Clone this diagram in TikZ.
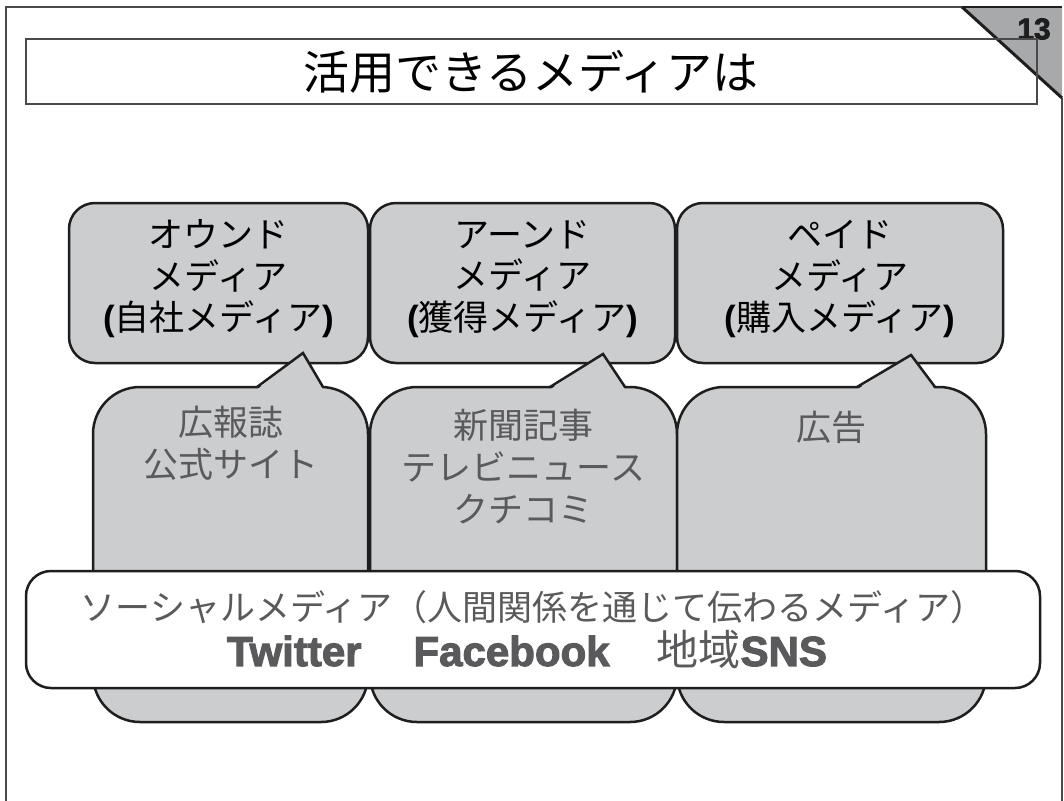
\documentclass[tikz,border=0pt]{standalone}
\usepackage{fontspec}
\newfontfamily\jp{Noto Sans CJK JP}
\newfontfamily\lat{Liberation Sans}
\newfontfamily\heavy[FakeBold=2.5]{Liberation Sans Bold}
\definecolor{boxgray}{HTML}{CCCDCF}
\definecolor{txtgray}{HTML}{5A5A5C}
\definecolor{edge}{HTML}{1E1E1E}
\definecolor{framegray}{HTML}{4A4A4A}
\definecolor{cornergray}{HTML}{A8A9AB}
\newcommand{\bp}[1]{{\lat\bfseries #1}}
\begin{document}
\begin{tikzpicture}[x=1pt,y=-1pt,
  framelink/.style={draw=framegray,line width=1.6pt},
  topbox/.style={draw=edge,fill=boxgray,line width=2.5pt,rounded corners=26pt,inner sep=0pt},
  callbody/.style={draw=edge,fill=boxgray,line width=2.5pt,rounded corners=47pt,inner sep=0pt,minimum height=335pt},
  pointerfill/.style={fill=boxgray},
  pointeredge/.style={draw=edge,line width=2.5pt,line join=miter},
  sociobox/.style={draw=edge,fill=white,line width=2.5pt,rounded corners=25pt,inner sep=0pt},
  toptext/.style={align=center,text=black,font=\jp\fontsize{35}{41.5}\selectfont,inner sep=0pt},
  calltext/.style={align=center,text=txtgray,font=\jp\fontsize{35}{42}\selectfont,inner sep=0pt}
]
\useasboundingbox (0,0) rectangle (1064,800);
\fill[white] (0,0) rectangle (1064,800);

% page corner and frame
\coordinate (foldA) at (962,7);
\coordinate (foldC) at (1062,7);
\coordinate (foldB) at (1062,98);
\fill[cornergray] (foldA) -- (foldC) -- (foldB) -- cycle;
\draw[framelink] (6,810) -- (6,7) -- (foldA);
\draw[edge,line width=2.2pt] (foldA) -- (foldC);
\draw[framelink] (foldB) -- (1062,810);
\draw[edge,line width=3pt] (foldA) -- (foldB);
\node[font=\heavy\fontsize{30}{30}\selectfont,text=edge,inner sep=0pt] (pageno) at (1034,29) {13};

% title
\node[draw=framegray,line width=1.5pt,minimum width=1011pt,minimum height=65pt,inner sep=0pt] (titlebox) at (531.5,71.5) {};
\node[font=\jp\fontsize{46}{46}\selectfont,inner sep=0pt] (title) at (531,72) {活用できるメディアは};

% top boxes
\node[topbox,minimum width=299pt,minimum height=160pt] (owned) at (218.5,283) {};
\node[topbox,minimum width=305pt,minimum height=160pt] (earned) at (522.5,283) {};
\node[topbox,minimum width=326pt,minimum height=160pt] (paid) at (840,283) {};
\node[toptext] (ownedtext) at (218.5,279) {オウンド\\メディア\\\bp{(}自社メディア\bp{)}};
\node[toptext] (earnedtext) at (522.5,279) {アーンド\\メディア\\\bp{(}獲得メディア\bp{)}};
\node[toptext] (paidtext) at (840,279) {ペイド\\メディア\\\bp{(}購入メディア\bp{)}};

% callout 1
\node[callbody,minimum width=275pt] (ex1) at (230.5,554.5) {};
\coordinate (p1a) at (257,387);
\coordinate (p1t) at (303,353);
\coordinate (p1b) at (323,387);
\fill[pointerfill] (257,389.5) -- (p1t) -- (323,389.5) -- cycle;
\draw[pointeredge] (p1a) -- (p1t) -- (p1b);
% callout 2
\node[callbody,minimum width=307pt] (ex2) at (523.5,554.5) {};
\coordinate (p2a) at (550,387);
\coordinate (p2t) at (603,354);
\coordinate (p2b) at (625,387);
\fill[pointerfill] (550,389.5) -- (p2t) -- (625,389.5) -- cycle;
\draw[pointeredge] (p2a) -- (p2t) -- (p2b);
% callout 3
\node[callbody,minimum width=309pt] (ex3) at (831.5,554.5) {};
\coordinate (p3a) at (857,387);
\coordinate (p3t) at (911,355);
\coordinate (p3b) at (935,387);
\fill[pointerfill] (857,389.5) -- (p3t) -- (935,389.5) -- cycle;
\draw[pointeredge] (p3a) -- (p3t) -- (p3b);

\node[calltext] (ex1text) at (230.5,443) {広報誌\\公式サイト};
\node[calltext] (ex2text) at (523.5,467) {新聞記事\\テレビニュース\\クチコミ};
\node[calltext] (ex3text) at (831.5,427) {広告};

% social media box
\node[sociobox,minimum width=1014pt,minimum height=117pt] (social) at (533,629.5) {};
\node[text=txtgray,font=\jp\fontsize{35}{35}\selectfont,inner sep=0pt] (socialtitle) at (533,607) {ソーシャルメディア（人間関係を通じて伝わるメディア）};
\node[text=txtgray,font=\fontsize{42}{42}\selectfont,inner sep=0pt] (socialnames) at (527,650)
  {{\heavy Twitter}\hspace{52pt}{\heavy Facebook}\hspace{47pt}{\jp 地域}{\heavy SNS}};
\end{tikzpicture}
\end{document}
